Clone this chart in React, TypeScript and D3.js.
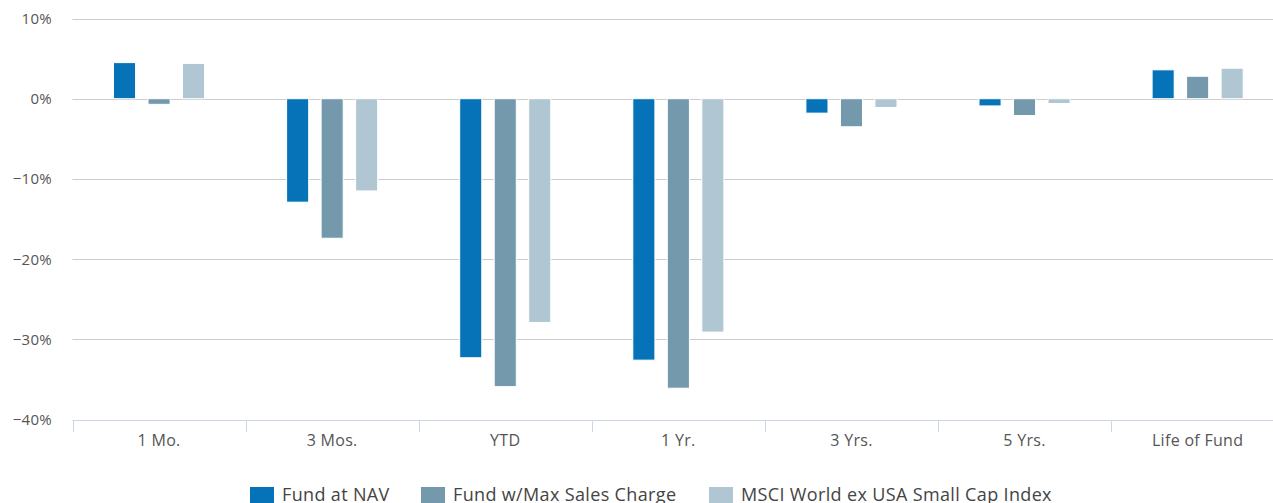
import React from "react";
import * as d3 from "d3";

const categories = ["1 Mo.", "3 Mos.", "YTD", "1 Yr.", "3 Yrs.", "5 Yrs.", "Life of Fund"];
const seriesNames = ["Fund at NAV", "Fund w/Max Sales Charge", "MSCI World ex USA Small Cap Index"];
const fundNav = [4.5, -12.9, -32.3, -32.6, -1.8, -0.9, 3.6];
const fundMax = [-0.7, -17.4, -35.9, -36.1, -3.5, -2.1, 2.8];
const indexVals = [4.4, -11.5, -27.9, -29.1, -1.1, -0.6, 3.8];
const seriesColors = ["#0673b8", "#7499ad", "#b0c7d3"];
const yTicks = [10, 0, -10, -20, -30, -40];

const W = 1273;
const H = 503;
const FONT = "'Open Sans', 'DejaVu Sans', sans-serif";

export default function App() {
  const seriesData = [fundNav, fundMax, indexVals];
  const x0 = d3.scaleBand<string>().domain(categories).range([72.5, 72.5 + 7 * 173.1]).paddingInner(0.402).paddingOuter(0.201);
  const x1 = d3.scaleBand<string>().domain(seriesNames).range([0, x0.bandwidth()]).paddingInner(0.36).paddingOuter(0.18);
  const y = d3.scaleLinear().domain([-40, 10]).range([419.5, 18.5]);
  const step = x0.step();
  const legendX = [250, 421, 709];

  return (
    <svg width={W} height={H} style={{ position: "absolute", left: 0, top: 0, background: "#fff" }} fontFamily={FONT}>
      {yTicks.map((t) => (
        <g key={t}>
          {t !== -40 && (
            <line x1={72.5} x2={W} y1={Math.round(y(t)) + 0.5} y2={Math.round(y(t)) + 0.5} stroke="#cccccc" strokeWidth={1} />
          )}
          <text x={52} y={y(t) + 5.5} textAnchor="end" fontSize={15} fill="#555" letterSpacing={0.3}>
            {t < 0 ? "\u2212" + Math.abs(t) + "%" : t + "%"}
          </text>
        </g>
      ))}
      {seriesData.map((vals, si) =>
        vals.map((v, ci) => {
          const xc = (x0(categories[ci]) as number) + (x1(seriesNames[si]) as number);
          const y0 = y(0);
          const yv = y(v);
          return (
            <rect
              key={si + "-" + ci}
              x={xc}
              y={Math.min(y0, yv)}
              width={x1.bandwidth()}
              height={Math.abs(yv - y0)}
              fill={seriesColors[si]}
              stroke="#ffffff"
              strokeWidth={1}
            />
          );
        })
      )}
      <line x1={72.5} x2={W} y1={420.5} y2={420.5} stroke="#ccd6eb" strokeWidth={1} />
      {categories.map((c, i) => {
        const left = (x0(c) as number) - (step - x0.bandwidth()) / 2;
        return (
          <g key={c}>
            <line x1={Math.round(left) + 0.5} x2={Math.round(left) + 0.5} y1={420} y2={432} stroke="#ccd6eb" strokeWidth={1} />
            <text x={left + step / 2} y={446} textAnchor="middle" fontSize={16} fill="#555" letterSpacing={0.3}>
              {c}
            </text>
          </g>
        );
      })}
      {seriesNames.map((s, i) => (
        <g key={s}>
          <rect x={legendX[i]} y={487} width={24} height={18} fill={seriesColors[i]} />
          <text x={legendX[i] + 32} y={500.5} fontSize={18} fill="#444" letterSpacing={0.35}>
            {s}
          </text>
        </g>
      ))}
    </svg>
  );
}
